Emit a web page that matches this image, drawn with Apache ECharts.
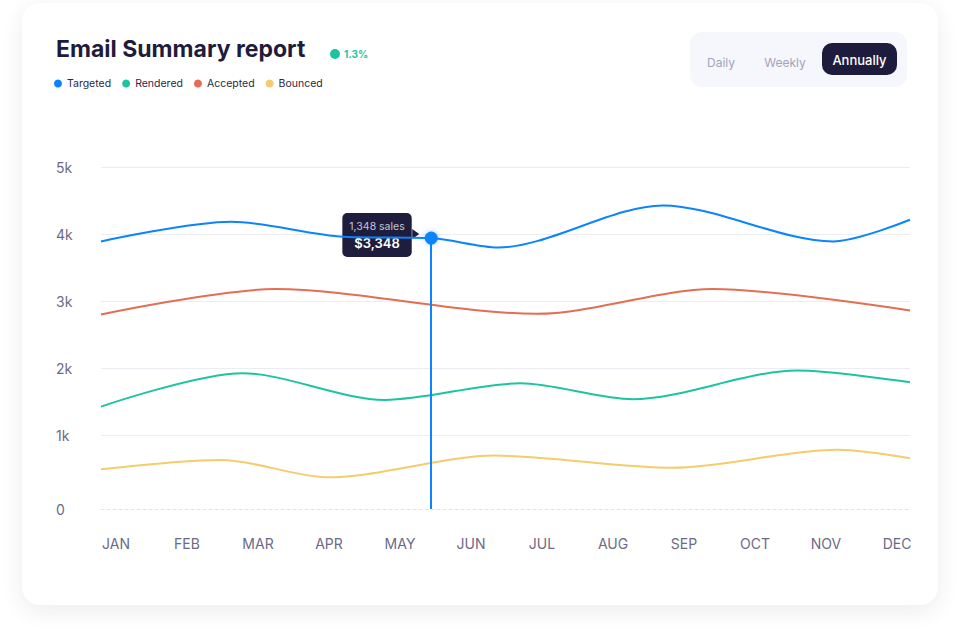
<!DOCTYPE html>
<html>
<head>
<meta charset="utf-8">
<script src="https://cdn.jsdelivr.net/npm/echarts@6.0.0/dist/echarts.min.js"></script>
<style>
  html, body { margin: 0; padding: 0; background: #ffffff; }
  #card {
    position: absolute; left: 22px; top: 3px; width: 916px; height: 602px;
    background: #fff; border-radius: 18px;
    box-shadow: 0 6px 22px rgba(40, 40, 80, 0.09);
  }
  #chart { position: absolute; left: 0; top: 0; width: 960px; height: 642px; }
</style>
</head>
<body>
<div id="card"></div>
<div id="chart"></div>
<script>
// month ticks shown under the plot
const months = ["JAN", "FEB", "MAR", "APR", "MAY", "JUN", "JUL", "AUG", "SEP", "OCT", "NOV", "DEC"];
// the "0" row sits a little below the rest of the scale in the design
const yFloor = -100;
const yMax = 5000;

// [month position, value]
const targeted = [[0, 3890], [1.77, 4184], [3.3, 3960], [4.49, 3940], [5.4, 3800], [7.64, 4427], [9.95, 3890], [11, 4213]];
const rendered = [[0, 1427], [1.92, 1925], [3.86, 1527], [5.7, 1775], [7.23, 1537], [9.46, 1964], [11, 1791]];
const accepted = [[0, 2800], [2.37, 3179], [5.93, 2810], [8.32, 3179], [11, 2860]];
const bounced = [[0, 492], [1.64, 631], [3.09, 373], [5.36, 696], [7.78, 516], [10.01, 785], [11, 657]];

const highlightIndex = 3;
const highlightSales = "1,348 sales";
const highlightAmount = "$3,348";
const growth = "1.3%";
const periods = ["Daily", "Weekly", "Annually"];

const colors = {
  Targeted: "#0a84ff",
  Rendered: "#1dc4a0",
  Accepted: "#e36e53",
  Bounced: "#f5cc6c",
};
const font = "Inter";
const axisText = "#6c6a88";
const gridLine = "#ececf3";

const chart = echarts.init(document.getElementById("chart"), null, { renderer: "svg" });

function lineSeries(name, data, extra) {
  return Object.assign({
    name: name,
    type: "line",
    data: data,
    smooth: 0.3,
    symbol: "none",
    clip: false,
    xAxisIndex: 0,
    yAxisIndex: 0,
    lineStyle: { width: 2, color: colors[name] },
    itemStyle: { color: colors[name] },
  }, extra || {});
}

const hp = targeted[highlightIndex];

const option = {
  animation: false,
  textStyle: { fontFamily: font },
  title: [
    {
      text: "Email Summary report",
      left: 51,
      top: 32,
      textStyle: { fontSize: 23, fontWeight: 700, color: "#1e1c3c", fontFamily: font },
    },
    {
      text: "{d|}{t|" + growth + "}",
      left: 325,
      top: 44,
      textStyle: {
        rich: {
          d: { width: 10, height: 10, borderRadius: 5, backgroundColor: "#1dc4a0" },
          t: { fontSize: 10, fontWeight: 700, color: "#1dc4a0", padding: [0, 0, 0, 4], fontFamily: font },
        },
      },
    },
  ],
  legend: {
    left: 49,
    top: 73,
    icon: "circle",
    itemWidth: 8,
    itemHeight: 8,
    itemGap: 11,
    textStyle: { fontSize: 10.5, color: "#2a2946", fontFamily: font },
    data: ["Targeted", "Rendered", "Accepted", "Bounced"],
  },
  graphic: [
    {
      type: "rect",
      shape: { x: 690, y: 32, width: 217, height: 55, r: 12 },
      style: { fill: "#f6f7fd" },
      silent: true,
    },
    {
      type: "rect",
      shape: { x: 822, y: 43, width: 75, height: 32, r: 10 },
      style: { fill: "#1e1c3c" },
      silent: true,
    },
    {
      type: "text", x: 721, y: 62,
      style: { text: periods[0], fill: "#a3a3b9", fontSize: 12, fontFamily: font, align: "center", verticalAlign: "middle" },
    },
    {
      type: "text", x: 785, y: 62,
      style: { text: periods[1], fill: "#a3a3b9", fontSize: 12, fontFamily: font, align: "center", verticalAlign: "middle" },
    },
    {
      type: "text", x: 859.5, y: 59.5,
      style: { text: periods[2], fill: "#ffffff", fontSize: 13, fontWeight: 500, fontFamily: font, align: "center", verticalAlign: "middle" },
    },
  ],
  grid: [
    { left: 101, right: 50, top: 167, bottom: 133 },
    { left: 116, right: 63, top: 440, bottom: 133 },
  ],
  xAxis: [
    {
      gridIndex: 0, type: "value", min: 0, max: 11,
      axisLine: { show: true, onZero: false, lineStyle: { color: "#e2e2ee", type: [3, 3], width: 1 } },
      axisTick: { show: false }, axisLabel: { show: false }, splitLine: { show: false },
    },
    {
      gridIndex: 1, type: "category", data: months, boundaryGap: false,
      axisLine: { show: false }, axisTick: { show: false }, splitLine: { show: false },
      axisLabel: { interval: 0, margin: 27, fontSize: 14, color: axisText, fontFamily: font },
    },
  ],
  yAxis: [
    {
      gridIndex: 0, type: "value", min: yFloor, max: yMax, splitNumber: 5,
      axisLine: { show: false }, axisTick: { show: false },
      axisLabel: {
        align: "left", margin: 45, fontSize: 14, color: axisText, fontFamily: font,
        formatter: (v) => (v === yFloor ? "0" : v === 0 ? "" : v / 1000 + "k"),
      },
      splitLine: { lineStyle: { color: ["transparent", "transparent", gridLine, gridLine, gridLine, gridLine, gridLine], width: 1 } },
    },
    { gridIndex: 1, type: "value", show: false },
  ],
  series: [
    lineSeries("Targeted", targeted, {
      z: 5,
      markLine: {
        silent: true,
        symbol: ["none", "none"],
        label: { show: false },
        lineStyle: { color: colors.Targeted, width: 2, type: "solid" },
        data: [[{ coord: [hp[0], hp[1]] }, { coord: [hp[0], yFloor] }]],
      },
      markPoint: {
        silent: true,
        data: [
          {
            coord: [hp[0], hp[1]],
            symbol: "triangle",
            symbolSize: [10, 7],
            symbolRotate: -90,
            symbolOffset: [-15.5, -4],
            itemStyle: { color: "#1f1d3d" },
            label: { show: false },
          },
          {
            coord: [hp[0], hp[1]],
            symbol: "circle",
            symbolSize: 13,
            itemStyle: { color: colors.Targeted, shadowBlur: 6, shadowColor: "rgba(10,132,255,0.35)" },
            label: {
              show: true,
              position: "left",
              distance: 13,
              offset: [0, -3],
              backgroundColor: "#1f1d3d",
              borderRadius: 5,
              padding: [6, 7, 6, 7],
              formatter: "{a|" + highlightSales + "}\n{b|" + highlightAmount + "}",
              rich: {
                a: { fontSize: 10.5, color: "#c4c3d6", lineHeight: 15, fontFamily: font, align: "center" },
                b: { fontSize: 13, fontWeight: 600, color: "#ffffff", lineHeight: 17, fontFamily: font, align: "center" },
              },
            },
          },
        ],
      },
    }),
    lineSeries("Rendered", rendered),
    lineSeries("Accepted", accepted),
    lineSeries("Bounced", bounced),
  ],
};

chart.setOption(option);
</script>
</body>
</html>
